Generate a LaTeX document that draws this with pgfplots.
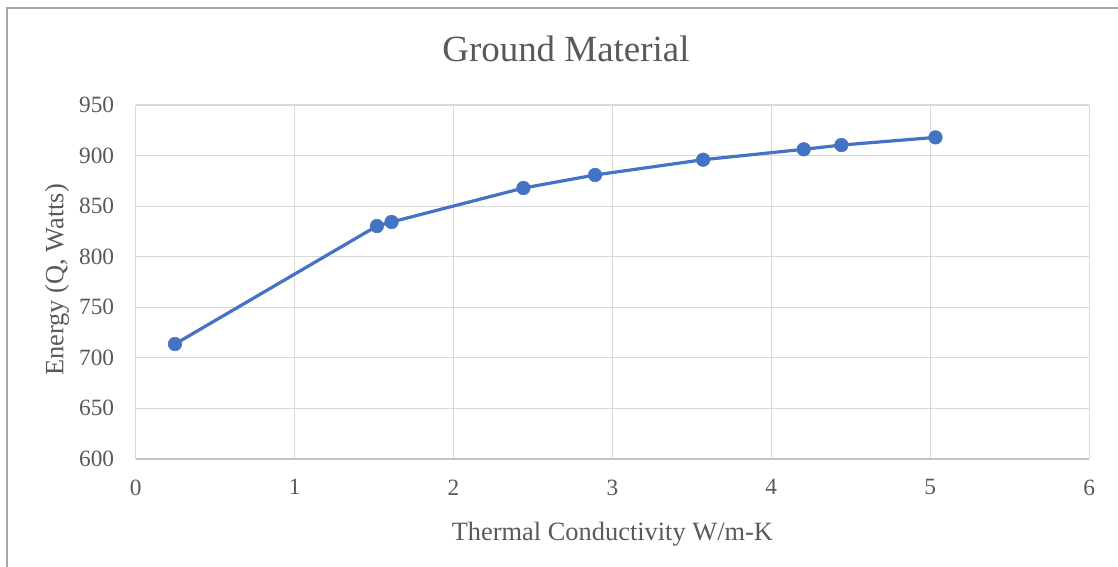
\documentclass[border=0pt]{standalone}
\usepackage{pgfplots}
\pgfplotsset{compat=1.18}
\usepackage{fontspec}
\setmainfont{Liberation Serif}
\definecolor{txtgray}{HTML}{595959}
\definecolor{gridgray}{HTML}{D9D9D9}
\definecolor{axisgray}{HTML}{C4C4C4}
\definecolor{framegray}{HTML}{A6A6A6}
\definecolor{seriesblue}{HTML}{4472C4}
\begin{document}
\begin{tikzpicture}[x=0.75pt,y=0.75pt]
\useasboundingbox (0,0) rectangle (1118,567);
% chart area frame
\draw[framegray, line width=1.1pt] (7,-40) -- (7,559) -- (1160,559);
\begin{axis}[
  at={(101.78pt,81.08pt)}, anchor=south west,
  scale only axis,
  width=715.05pt, height=265.4pt,
  xmin=0, xmax=6, ymin=600, ymax=950,
  xtick={0,1,2,3,4,5,6},
  ytick={600,650,700,750,800,850,900,950},
  major tick length=0pt,
  grid=major,
  major grid style={gridgray, line width=0.8pt},
  axis lines=left,
  axis line style={-},
  x axis line style={axisgray, line width=1pt},
  y axis line style={gridgray, line width=0.8pt},
  /pgf/number format/assume math mode=true,
  tick label style={txtgray, font=\fontsize{17.5}{21}\selectfont, inner sep=0pt},
  xticklabel style={anchor=north, yshift=-15.3pt},
  yticklabel style={anchor=east, xshift=-16pt},
  title={Ground Material},
  title style={txtgray, font=\fontsize{27.7}{33}\selectfont,
    at={(axis description cs:0.4513,1.0995)}, anchor=base, inner sep=0pt},
  xlabel={Thermal Conductivity W/m-K},
  xlabel style={txtgray, font=\fontsize{19.8}{24}\selectfont,
    at={(axis description cs:0.5,-0.232)}, anchor=base, inner sep=0pt},
  ylabel={Energy (Q, Watts)},
  ylabel style={txtgray, font=\fontsize{19.8}{24}\selectfont,
    at={(axis description cs:-0.0759,0.5055)}, anchor=base, inner sep=0pt},
  clip=false,
]
\addplot[seriesblue, line width=2.4pt, mark=*, mark size=5.1pt,
  mark options={seriesblue, fill=seriesblue, line width=0.4pt}]
  coordinates {
    (0.247,713.6)
    (1.518,830.3)
    (1.610,834.3)
    (2.440,867.9)
    (2.891,880.8)
    (3.571,895.9)
    (4.204,906.2)
    (4.441,910.4)
    (5.033,918.0)
  };
\end{axis}
\end{tikzpicture}
\end{document}
